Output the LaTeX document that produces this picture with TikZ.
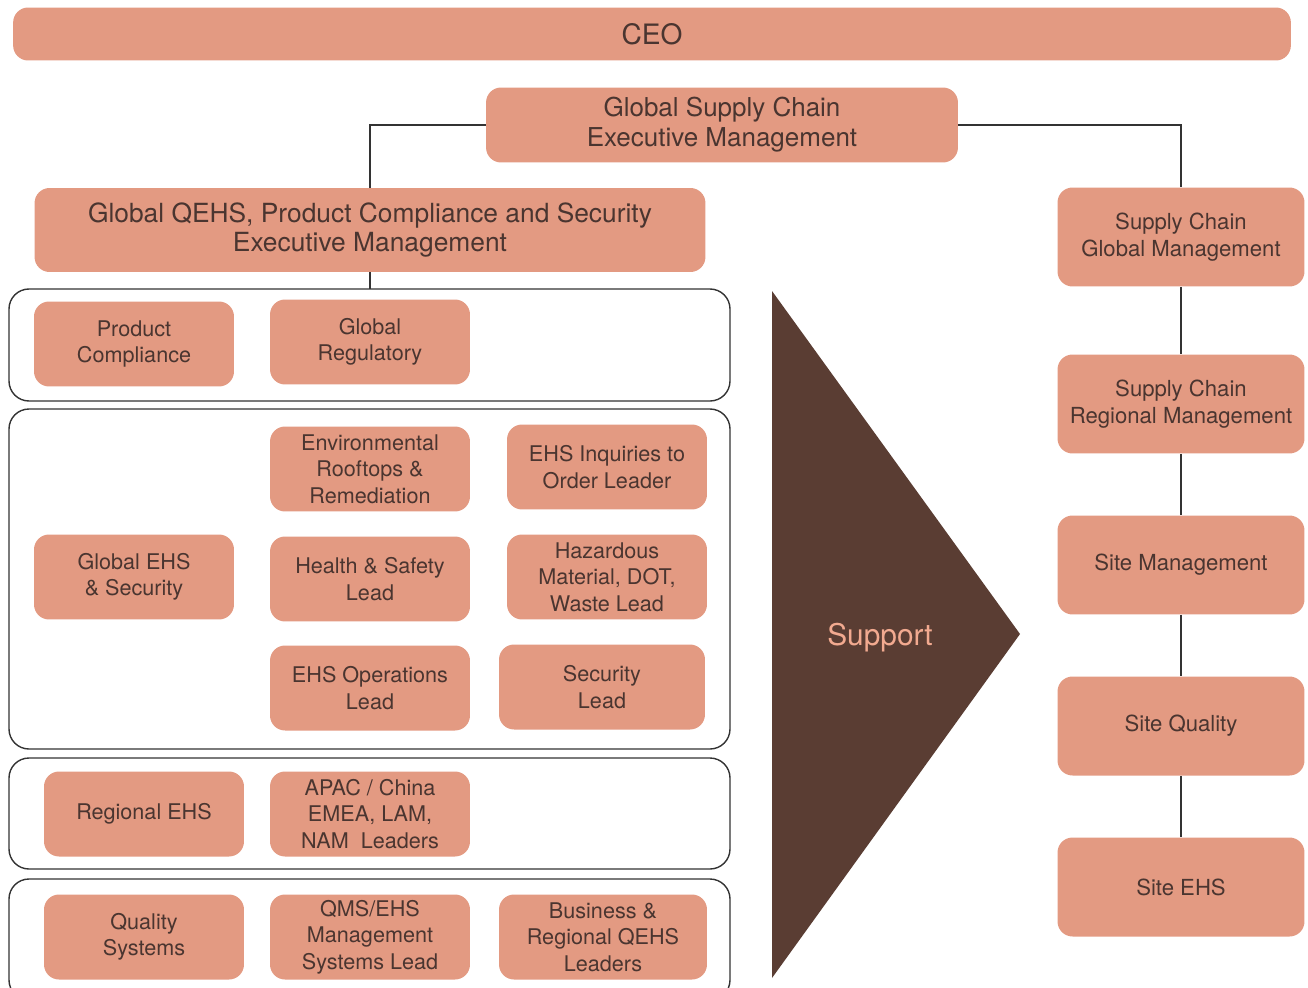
\documentclass[tikz,border=0pt]{standalone}
\usepackage{fontspec}
\setmainfont{TeX Gyre Heros}
\usepackage{xcolor}
\usepackage{tikz}

\definecolor{salmon}{HTML}{E39A82}
\definecolor{darktext}{HTML}{4A3530}
\definecolor{cocoa}{HTML}{5A3D33}
\definecolor{supportpink}{HTML}{F2AA90}
\definecolor{frameline}{HTML}{333333}

\begin{document}
\begin{tikzpicture}[x=0.02cm, y=-0.02cm,
  box/.style={fill=salmon, rounded corners=0.3cm, align=center, text=darktext,
    inner sep=0pt, font=\fontsize{12.3}{15}\selectfont},
  small/.style={box, minimum width=4cm, minimum height=1.7cm},
  chain/.style={box, minimum width=4.94cm, minimum height=1.98cm, font=\fontsize{12.6}{15}\selectfont},
  frame/.style={draw=frameline, line width=0.8pt, rounded corners=0.4cm},
  link/.style={draw=frameline, line width=0.7pt}]
\useasboundingbox (0,0) rectangle (1308,987);

\node[box, minimum width=25.56cm, minimum height=1.06cm, font=\fontsize{16}{19}\selectfont] (ceo) at (652,34) {CEO};
\node[box, minimum width=9.44cm, minimum height=1.5cm, font=\fontsize{14.8}{17}\selectfont] (gsc) at (722,125) {Global Supply Chain\\Executive Management};
\node[box, minimum width=13.42cm, minimum height=1.68cm, font=\fontsize{15}{17}\selectfont] (qehs) at (370,230) {Global QEHS, Product Compliance and Security\\Executive Management};

% rows on the left
\draw[frame] (9,289) rectangle (730,401);
\draw[frame] (9,409) rectangle (730,749);
\draw[frame] (9,758) rectangle (730,869);
\draw[frame] (9,879) rectangle (730,1000);
\coordinate (rowtop) at (370,289);

\node[small] (pc) at (134,344) {Product\\Compliance};
\node[small] (greg) at (370,342) {Global\\Regulatory};

\node[small] (env) at (370,469) {Environmental\\Rooftops \&\\Remediation};
\node[small] (inq) at (607,467) {EHS Inquiries to\\Order Leader};
\node[small] (gehs) at (134,577) {Global EHS\\\& Security};
\node[small] (hs) at (370,579) {Health \& Safety\\Lead};
\node[small] (haz) at (607,577) {Hazardous\\Material, DOT,\\Waste Lead};
\node[small] (ops) at (370,688) {EHS Operations\\Lead};
\node[small, minimum width=4.12cm] (sec) at (602,687) {Security\\Lead};

\node[small] (rehs) at (144,814) {Regional EHS};
\node[small] (apac) at (370,814) {APAC / China\\EMEA, LAM,\\NAM~~Leaders};

\node[small] (qs) at (144,937) {Quality\\Systems};
\node[small] (qms) at (370,937) {QMS/EHS\\Management\\Systems Lead};
\node[small, minimum width=4.16cm] (biz) at (603,937) {Business \&\\Regional QEHS\\Leaders};

% support arrow
\fill[cocoa] (772,291) -- (1020,634) -- (772,978) -- cycle;
\node[text=supportpink, font=\fontsize{17}{20}\selectfont] (support) at (880,638) {Support};

% supply chain column
\node[chain] (scg) at (1181,237) {Supply Chain\\Global Management};
\node[chain] (scr) at (1181,404) {Supply Chain\\Regional Management};
\node[chain] (site) at (1181,565) {Site Management};
\node[chain] (sq) at (1181,726) {Site Quality};
\node[chain] (sehs) at (1181,887) {Site EHS};

\draw[link] (gsc.west) -| (qehs.north);
\draw[link] (gsc.east) -| (scg.north);
\draw[link] (qehs.south) -- (rowtop);
\draw[link] (scg) -- (scr) -- (site) -- (sq) -- (sehs);

\end{tikzpicture}
\end{document}
